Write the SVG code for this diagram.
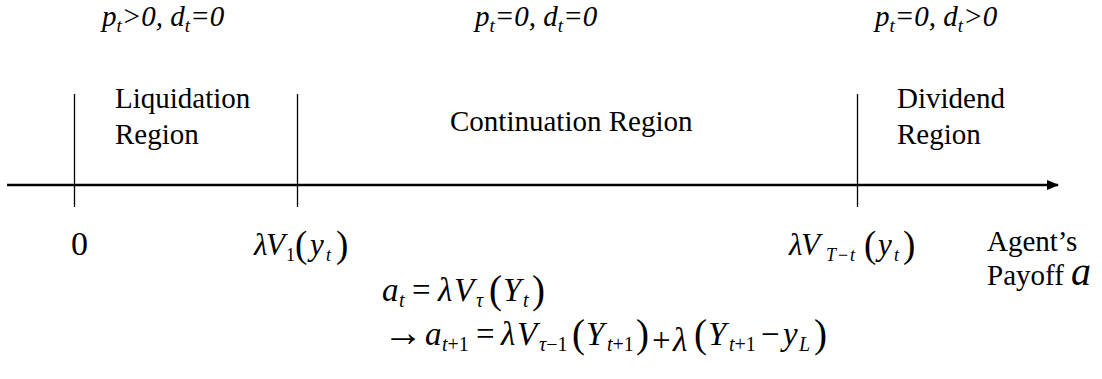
<svg xmlns="http://www.w3.org/2000/svg" width="1102" height="379" viewBox="0 0 1102 379" font-family="'Liberation Serif', 'Times New Roman', 'DejaVu Serif', serif">
<style>
text{font-family:"Liberation Serif","Times New Roman","DejaVu Serif",serif;fill:#000}
.lbl{font-size:29px}
.top{font-size:29px;font-style:italic}
.ts{font-size:19px}
.m{font-size:31px}
.mm{font-size:33px}
.i{font-style:italic}
.s{font-size:18px}
.s2{font-size:20px}
.p{font-size:37px}
.p2{font-size:39px}
.ar{font-size:40px}
.tick{stroke:#000;stroke-width:1.3}
</style>
<defs>
<marker id="ah" markerWidth="12" markerHeight="10" refX="11" refY="5" orient="auto" markerUnits="userSpaceOnUse">
<path d="M0,0 L12,5 L0,10 Z" fill="#000"/>
</marker>
</defs>
<g id="connectors">
<line x1="7" y1="185" x2="1058" y2="185" stroke="#000" stroke-width="2.5" marker-end="url(#ah)"/>
<line class="tick" x1="74.5" y1="94" x2="74.5" y2="207"/>
<line class="tick" x1="297.5" y1="94" x2="297.5" y2="207"/>
<line class="tick" x1="857.5" y1="94" x2="857.5" y2="207"/>
</g>
<g id="top-labels">
<text class="top" x="102" y="26">p<tspan class="ts" dy="6">t</tspan><tspan dy="-6">&gt;0, d</tspan><tspan class="ts" dy="6">t</tspan><tspan dy="-6">=0</tspan></text>
<text class="top" x="475" y="26">p<tspan class="ts" dy="6">t</tspan><tspan dy="-6">=0, d</tspan><tspan class="ts" dy="6">t</tspan><tspan dy="-6">=0</tspan></text>
<text class="top" x="875" y="26">p<tspan class="ts" dy="6">t</tspan><tspan dy="-6">=0, d</tspan><tspan class="ts" dy="6">t</tspan><tspan dy="-6">&gt;0</tspan></text>
</g>
<g id="liquidation">
<text class="lbl" x="115" y="108">Liquidation</text>
<text class="lbl" x="115" y="144">Region</text>
</g>
<g id="continuation">
<text class="lbl" x="450" y="131">Continuation Region</text>
</g>
<g id="dividend">
<text class="lbl" x="897" y="108">Dividend</text>
<text class="lbl" x="897" y="144">Region</text>
</g>
<g id="zero">
<text x="71" y="255" style="font-size:34px">0</text>
</g>
<g id="lv1">
<text class="m" y="255"><tspan class="i" x="254">λ</tspan><tspan class="i" x="266">V</tspan><tspan class="s" x="286" dy="6">1</tspan><tspan class="p" x="295" dy="-4">(</tspan><tspan class="i" x="310" dy="-2">y</tspan><tspan class="s i" x="326" dy="6">t</tspan><tspan class="p" x="336" dy="-4">)</tspan></text>
</g>
<g id="lvT">
<text class="m" y="255"><tspan class="i" x="789">λ</tspan><tspan class="i" x="801">V</tspan><tspan class="s i" x="826" dy="6">T</tspan><tspan class="s" x="838">−</tspan><tspan class="s i" x="850">t</tspan><tspan class="p" x="864" dy="-4">(</tspan><tspan class="i" x="878" dy="-2">y</tspan><tspan class="s i" x="894" dy="6">t</tspan><tspan class="p" x="903" dy="-4">)</tspan></text>
</g>
<g id="axis-label">
<text class="lbl" x="987" y="251">Agent’s</text>
<text class="lbl" x="987" y="285">Payoff <tspan class="i" style="font-size:40px">a</tspan></text>
</g>
<g id="equations">
<text class="mm" y="301"><tspan class="i" x="382">a</tspan><tspan class="s2 i" x="399" dy="6">t</tspan><tspan x="412" dy="-6">=</tspan><tspan class="i" x="438">λ</tspan><tspan class="i" x="454">V</tspan><tspan class="s2 i" x="476" dy="6">τ</tspan><tspan class="p2" x="489" dy="-4">(</tspan><tspan class="i" x="503" dy="-2">Y</tspan><tspan class="s2 i" x="523" dy="6">t</tspan><tspan class="p2" x="532" dy="-4">)</tspan></text>
<text class="mm" y="345"><tspan class="ar" x="383" dy="1">→</tspan><tspan class="i" x="425" dy="-1">a</tspan><tspan class="s2" x="442" dy="6"><tspan class="i">t</tspan>+1</tspan><tspan x="476" dy="-6">=</tspan><tspan class="i" x="501">λ</tspan><tspan class="i" x="517">V</tspan><tspan class="s2" x="539" dy="6"><tspan class="i">τ</tspan>−1</tspan><tspan class="p2" x="572" dy="-4">(</tspan><tspan class="i" x="586" dy="-2">Y</tspan><tspan class="s2" x="607" dy="6"><tspan class="i">t</tspan>+1</tspan><tspan class="p2" x="636" dy="-4">)</tspan><tspan x="652" dy="4">+</tspan><tspan class="i" x="673">λ</tspan><tspan class="p2" x="694" dy="-4">(</tspan><tspan class="i" x="708" dy="-2">Y</tspan><tspan class="s2" x="729" dy="6"><tspan class="i">t</tspan>+1</tspan><tspan x="761" dy="-6">−</tspan><tspan class="i" x="783">y</tspan><tspan class="s2 i" x="799" dy="6">L</tspan><tspan class="p2" x="814" dy="-4">)</tspan></text>
</g>
</svg>
